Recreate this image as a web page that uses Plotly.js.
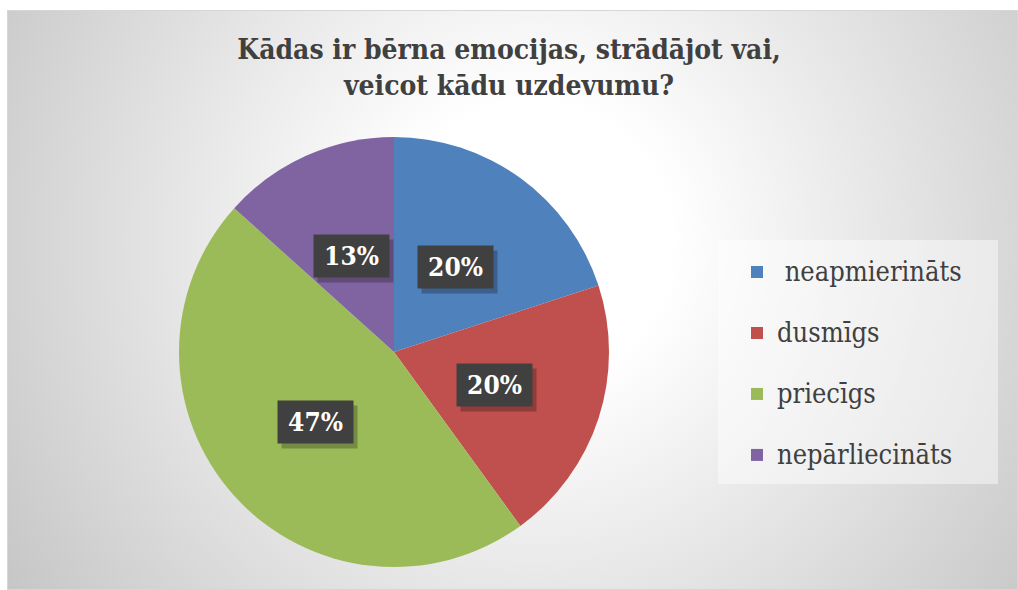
<!DOCTYPE html>
<html>
<head>
<meta charset="utf-8">
<script src="https://cdn.plot.ly/plotly-3.0.1.min.js"></script>
<style>
  html, body { margin: 0; padding: 0; background: #ffffff; }
  #bg {
    position: absolute; left: 7px; top: 10px; width: 1009px; height: 578px;
    border: 1px solid #d6d6d6;
    background: radial-gradient(circle farthest-corner at 52% 40%, #ffffff 0%, #ffffff 22%, #c6c6c6 100%);
  }
  #chart { position: absolute; left: 0; top: 0; width: 1018px; height: 590px; }
</style>
</head>
<body>
<div id="bg"></div>
<div id="chart"></div>
<script>
// ---- data ----
const categories = ["neapmierināts", "dusmīgs", "priecīgs", "nepārliecināts"];
const counts = [3, 3, 7, 2];
const percentLabels = ["20%", "20%", "47%", "13%"];
const sliceColors = ["#4f81bd", "#c0504d", "#9bbb59", "#8064a2"];
const chartTitle = "Kādas ir bērna emocijas, strādājot vai,<br>veicot kādu uzdevumu?";

// ---- geometry ----
const W = 1018, H = 590;
const cxPx = 394, cyPx = 352, R = 215;
const SERIF = 'DejaVu Serif Condensed, DejaVu Serif';
const dom = {
  x: [(cxPx - R) / W, (cxPx + R) / W],
  y: [1 - (cyPx + R) / H, 1 - (cyPx - R) / H]
};

const legendLabels = categories.map((c, i) =>
  '<span style="font-size:27px">' + (i === 0 ? '\u00a0' : '') + c + '</span><br>\u00a0');

const trace = {
  type: 'pie',
  labels: legendLabels,
  values: counts,
  customdata: categories,
  sort: false,
  direction: 'clockwise',
  rotation: 0,
  marker: { colors: sliceColors, line: { width: 0 } },
  textinfo: 'none',
  hovertemplate: '%{customdata}: %{percent}<extra></extra>',
  domain: dom
};

const total = counts.reduce((a, b) => a + b, 0);
const rLab = 0.49 * R;
const labelPos = [];
let cum = 0;
counts.forEach((v) => {
  const mid = (cum + v / 2) / total * 2 * Math.PI;
  cum += v;
  labelPos.push({
    x: cxPx / W + rLab * Math.sin(mid) / W,
    y: (1 - cyPx / H) + rLab * Math.cos(mid) / H
  });
});
const annotations = [];
labelPos.forEach((p) => {
  annotations.push({
    x: p.x, y: p.y, xref: 'paper', yref: 'paper', showarrow: false,
    xanchor: 'center', yanchor: 'middle',
    width: 69, height: 36, borderpad: 3,
    text: '\u00a0', bgcolor: 'rgba(0,0,0,0.25)',
    xshift: 4, yshift: -5,
    font: { family: SERIF, size: 26, color: 'rgba(0,0,0,0)' }
  });
});
labelPos.forEach((p, i) => {
  annotations.push({
    x: p.x, y: p.y, xref: 'paper', yref: 'paper', showarrow: false,
    xanchor: 'center', yanchor: 'middle',
    width: 69, height: 36, borderpad: 3,
    text: '<b>' + percentLabels[i] + '</b>', bgcolor: '#404040',
    font: { family: SERIF, size: 26, color: '#ffffff' }
  });
});

const layout = {
  width: W, height: H,
  margin: { l: 0, r: 0, t: 0, b: 0 },
  paper_bgcolor: 'rgba(0,0,0,0)',
  plot_bgcolor: 'rgba(0,0,0,0)',
  font: { family: SERIF },
  title: {
    text: '<b>' + chartTitle + '</b>',
    x: 0.5, xref: 'paper', xanchor: 'center',
    y: 1 - 59 / H, yref: 'container', yanchor: 'middle',
    font: { family: SERIF, size: 28, color: '#404040' }
  },
  showlegend: true,
  legend: {
    x: 737 / W, xanchor: 'left',
    y: 1 - 251 / H, yanchor: 'top',
    bgcolor: 'rgba(0,0,0,0)', borderwidth: 0,
    valign: 'top',
    font: { family: SERIF, size: 22.3, color: '#404040' }
  },
  shapes: [{
    type: 'rect', xref: 'paper', yref: 'paper', layer: 'below',
    x0: 718 / W, x1: 998 / W, y0: 1 - 484 / H, y1: 1 - 240 / H,
    fillcolor: 'rgba(255,255,255,0.45)', line: { width: 0 }
  }],
  annotations: annotations
};

Plotly.newPlot('chart', [trace], layout, { displayModeBar: false });
</script>
</body>
</html>
